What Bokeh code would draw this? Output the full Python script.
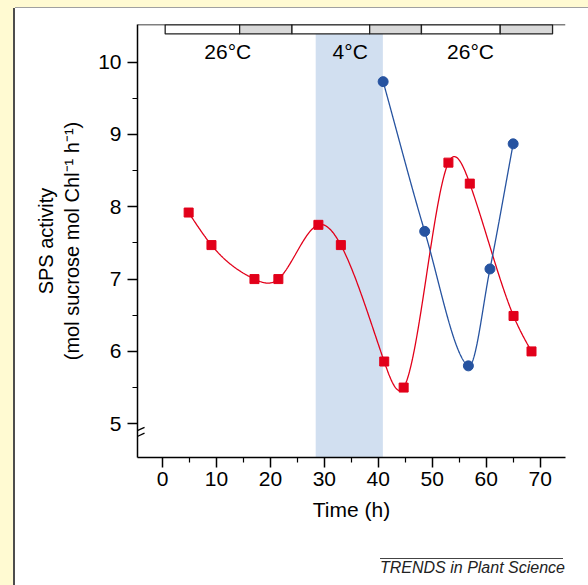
import numpy as np
from bokeh.plotting import figure
from bokeh.models import FixedTicker, Span, Spacer, Range1d, Arrow, Div
from bokeh.layouts import row, column
from bokeh.core.properties import value
from bokeh.embed import file_html
from bokeh.resources import INLINE

# ---------------- data ----------------
red_time = [4.85, 9.08, 17.05, 21.48, 28.9, 33.06, 41.1, 44.7, 53.0, 56.96, 65.07, 68.4]
red_sps = [7.92, 7.47, 7.0, 7.0, 7.75, 7.47, 5.86, 5.50, 8.61, 8.32, 6.49, 6.0]
blue_time = [40.9, 48.6, 56.7, 60.7, 65.0]
blue_sps = [9.73, 7.66, 5.80, 7.14, 8.87]
period_edges = [0.5, 14.3, 24.0, 38.4, 48.0, 62.6, 72.3]
period_dark = [False, True, False, True, False, True]
cold_period = [28.4, 40.85]
temp_labels = ["26°C", "4°C", "26°C"]
temp_label_time = [12.1, 34.8, 57.1]
x_ticks = [0, 10, 20, 30, 40, 50, 60, 70]
x_minor = [5, 15, 25, 35, 45, 55, 65]
y_ticks = [5, 6, 7, 8, 9, 10]
y_minor = [5.5, 6.5, 7.5, 8.5, 9.5]
caption = "TRENDS in Plant Science"

X0, X1 = -4.63, 74.7
Y0, Y1 = 4.533, 10.52
BAR_BOTTOM = 10.39

RED = "#E2001A"
BLUE = "#2653A0"
FONT = "Liberation Sans"
PANEL_BG = "#FFFAD2"
FS = "21px"


def natural_spline(x, y, n=600):
    x = np.asarray(x, float)
    y = np.asarray(y, float)
    k = len(x)
    h = np.diff(x)
    A = np.zeros((k, k))
    b = np.zeros(k)
    A[0, 0] = 1
    A[-1, -1] = 1
    for i in range(1, k - 1):
        A[i, i - 1] = h[i - 1]
        A[i, i] = 2 * (h[i - 1] + h[i])
        A[i, i + 1] = h[i]
        b[i] = 6 * ((y[i + 1] - y[i]) / h[i] - (y[i] - y[i - 1]) / h[i - 1])
    M = np.linalg.solve(A, b)
    xs = np.linspace(x[0], x[-1], n)
    idx = np.clip(np.searchsorted(x, xs) - 1, 0, k - 2)
    x0, x1 = x[idx], x[idx + 1]
    hh = x1 - x0
    a = (x1 - xs) / hh
    c = (xs - x0) / hh
    ys = (a * y[idx] + c * y[idx + 1]
          + ((a ** 3 - a) * M[idx] + (c ** 3 - c) * M[idx + 1]) * hh ** 2 / 6)
    return xs, ys


def hermite_curve(x, y, n=600):
    """Cubic Hermite curve with Catmull-Rom style tangents through the points."""
    x = np.asarray(x, float)
    y = np.asarray(y, float)
    k = len(x)
    m = np.zeros(k)
    m[0] = (y[1] - y[0]) / (x[1] - x[0])
    m[-1] = (y[-1] - y[-2]) / (x[-1] - x[-2])
    for i in range(1, k - 1):
        m[i] = (y[i + 1] - y[i - 1]) / (x[i + 1] - x[i - 1])
    xs = np.linspace(x[0], x[-1], n)
    idx = np.clip(np.searchsorted(x, xs) - 1, 0, k - 2)
    h = x[idx + 1] - x[idx]
    s = (xs - x[idx]) / h
    h00 = 2 * s ** 3 - 3 * s ** 2 + 1
    h10 = s ** 3 - 2 * s ** 2 + s
    h01 = -2 * s ** 3 + 3 * s ** 2
    h11 = s ** 3 - s ** 2
    ys = h00 * y[idx] + h10 * h * m[idx] + h01 * y[idx + 1] + h11 * h * m[idx + 1]
    return xs, ys


p = figure(width=568, height=530, x_range=Range1d(X0, X1), y_range=Range1d(Y0, Y1),
           output_backend="svg", toolbar_location=None,
           min_border_left=122, min_border_right=18, min_border_top=16, min_border_bottom=81)
p.background_fill_color = "white"
p.border_fill_color = "white"
p.outline_line_color = None
p.xgrid.visible = False
p.ygrid.visible = False

# cold period shading
p.quad(left=[cold_period[0]], right=[cold_period[1]], bottom=[Y0], top=[BAR_BOTTOM],
       fill_color="#D1DFF0", line_color=None)

# light/dark bar
p.quad(left=period_edges[:-1], right=period_edges[1:], bottom=[BAR_BOTTOM] * 6, top=[Y1] * 6,
       fill_color=["#D9D9D9" if d else "white" for d in period_dark],
       line_color="#222222", line_width=1.3)

# temperature labels
p.text(x=temp_label_time, y=[10.14] * 3, text=temp_labels,
       text_font=value(FONT), text_font_size=value(FS), text_color="black",
       text_align="center", text_baseline="middle")

# curves
rx, ry = natural_spline(red_time, red_sps)
bx, by = hermite_curve(blue_time, blue_sps)
p.line(rx, ry, line_color=RED, line_width=1.3)
p.line(bx, by, line_color=BLUE, line_width=1.3)
p.scatter(red_time, red_sps, marker="square", size=9, fill_color=RED, line_color=RED)
p.scatter(blue_time, blue_sps, marker="circle", size=10, fill_color=BLUE, line_color=BLUE)

# top frame line
p.add_layout(Span(location=Y1, dimension="width", line_color="black", line_width=1.5))

# axes
for ax in (p.xaxis[0], p.yaxis[0]):
    ax.axis_line_color = "black"
    ax.axis_line_width = 1.5
    ax.major_tick_line_color = "black"
    ax.major_tick_line_width = 1.5
    ax.minor_tick_line_color = "black"
    ax.minor_tick_line_width = 1.2
    ax.major_tick_out = 10
    ax.major_tick_in = 0
    ax.minor_tick_out = 5
    ax.minor_tick_in = 0
    ax.major_label_text_font = FONT
    ax.major_label_text_font_size = FS
    ax.major_label_text_color = "black"
    ax.axis_label_text_font = FONT
    ax.axis_label_text_font_size = "20px"
    ax.axis_label_text_font_style = "normal"
    ax.axis_label_text_color = "black"

p.xaxis.axis_label_text_font_size = FS
p.xaxis.ticker = FixedTicker(ticks=x_ticks, minor_ticks=x_minor)
p.yaxis.ticker = FixedTicker(ticks=y_ticks, minor_ticks=y_minor)
p.xaxis.major_label_standoff = 4
p.yaxis.major_label_standoff = 6
p.xaxis.axis_label = "Time (h)"
p.xaxis.axis_label_standoff = 9
p.yaxis.axis_label = "SPS activity\n(mol sucrose mol Chl\u207b\u00b9 h\u207b\u00b9)"
p.yaxis.axis_label_standoff = 12

# axis break marks
for dy in (0.0, -0.08):
    p.add_layout(Arrow(end=None, x_start=X0 - 1.3, y_start=4.86 + dy,
                       x_end=X0 + 1.3, y_end=4.95 + dy, line_color="black", line_width=1.3))

# caption with overline, below the plot inside the white panel
cap = Div(width=568, height=47, styles={"background-color": "white"},
          text=('<div style="margin:15px 0 0 360px; width:183px; '
                'border-top:1.3px solid #444; text-align:right; '
                "font-family:'Liberation Sans'; font-style:italic; font-size:16px; "
                'line-height:18px; color:#222; white-space:nowrap;">'
                + caption + '</div>'))

panel = column(p, cap, spacing=0,
               styles={"box-shadow": "-2px 0 0 0 #4d4d4d, 2px 0 0 0 #666666, 0 -1px 0 0 #a0a0a0",
                       "background-color": "white"})
layout = column(Spacer(height=8), row(Spacer(width=15), panel))

html = file_html(layout, INLINE)
html = html.replace("</head>",
                    "<style>html, body { background-color: " + PANEL_BG + " !important; }</style></head>", 1)
open("out.html", "w").write(html)
